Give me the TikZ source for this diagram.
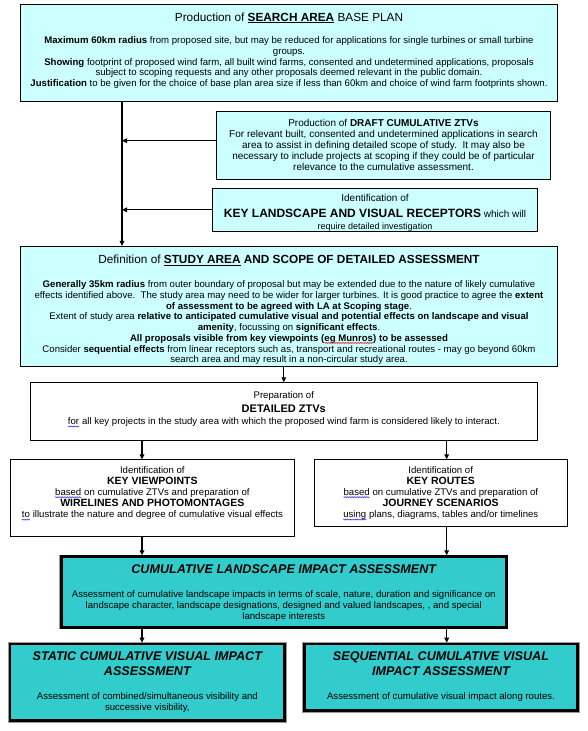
\documentclass[tikz,border=0pt]{standalone}
\usepackage{fontspec}
\setmainfont{Liberation Sans}
\setsansfont{Liberation Sans}
\usepackage{tikz}
\usetikzlibrary{positioning,arrows.meta,decorations.pathmorphing}
\definecolor{cyan1}{HTML}{CCFFFF}
\definecolor{teal1}{HTML}{33CCCC}
\definecolor{blue1}{HTML}{3A3AE0}
\definecolor{red1}{HTML}{E02020}

% wavy spell-check line under a word
\newcommand{\squig}[2]{\tikz[baseline=(sqw.base)]{%
  \node[inner sep=0pt, outer sep=0pt, anchor=base west, draw=none, fill=none]
      (sqw) at (0,0) {#2};
  \draw[#1, line width=0.45pt, decorate,
        decoration={zigzag, amplitude=0.55pt, segment length=1.7pt}]
      ([yshift=-1.7pt]sqw.base west) -- ([yshift=-1.7pt]sqw.base east);}}

\begin{document}
\begin{tikzpicture}[
    x=1pt, y=-1pt,
    frame/.style={draw, line width=0.9pt, fill=cyan1, inner sep=0pt,
                  outer sep=0pt},
    whiteframe/.style={frame, fill=white},
    heavyframe/.style={draw, line width=2.6pt, fill=teal1, inner sep=0pt,
                       outer sep=0pt,
                       preaction={draw=black!40, line width=3.8pt}},
    titletxt/.style={inner sep=0pt, align=center,
                     font=\sffamily\fontsize{11.8}{13}\selectfont},
    bodytxt/.style={inner sep=0pt, align=center,
                    font=\sffamily\fontsize{9.6}{10.75}\selectfont},
    heavytxt/.style={inner sep=0pt, align=center,
                     font=\sffamily\bfseries\itshape\fontsize{12.6}{15.3}\selectfont},
    flow/.style={-{Triangle[length=5pt,width=4.6pt]}, line width=1.3pt},
]
\useasboundingbox (0,0) rectangle (588,731);

% ── Search area ──
\node[frame, minimum width=536.8pt, minimum height=96.3pt]
    (searchf) at (289,52.85) {};
\node[titletxt, below=7.7pt of searchf.north] (searcht)
    {Production of \underline{\textbf{SEARCH AREA}} BASE PLAN};
\node[bodytxt, below=31.7pt of searchf.north] (searchb)
    {\textbf{Maximum 60km radius} from proposed site, but may be reduced for applications for single turbines or small turbine\\
     groups.\\
     \textbf{Showing} footprint of proposed wind farm, all built wind farms, consented and undetermined applications, proposals\\
     subject to scoping requests and any other proposals deemed relevant in the public domain.\\
     \textbf{Justification} to be given for the choice of base plan area size if less than 60km and choice of wind farm footprints shown.};

% ── Draft ZTVs and receptors ──
\node[frame, minimum width=334.4pt, minimum height=68pt]
    (draftf) at (383.5,145.3) {};
\node[bodytxt, font=\sffamily\fontsize{10}{11}\selectfont,
      below=8pt of draftf.north] (draft)
    {Production of \textbf{DRAFT CUMULATIVE ZTVs}\\
     For relevant built, consented and undetermined applications in search\\
     area to assist in defining detailed scope of study.\ \ It may also be\\
     necessary to include projects at scoping if they could be of particular\\
     relevance to the cumulative assessment.};

\node[frame, minimum width=325.4pt, minimum height=43pt]
    (recf) at (375,209.8) {};
\begin{scope}
  \clip (recf.south west) rectangle (recf.north east);
  \node[bodytxt, font=\sffamily\fontsize{10}{12.3}\selectfont,
        below=6.1pt of recf.north] (rec)
      {Identification of\\[3.2pt]
       {\fontsize{12}{12.3}\selectfont\bfseries KEY LANDSCAPE AND VISUAL RECEPTORS} which will\\
       {\fontsize{9}{12.3}\selectfont require detailed investigation}};
\end{scope}

% ── Study area ──
\node[frame, minimum width=536.8pt, minimum height=120.7pt]
    (studyf) at (289,306.3) {};
\node[titletxt, below=8.7pt of studyf.north] (studyt)
    {Definition of \textbf{\underline{STUDY AREA} AND SCOPE OF DETAILED ASSESSMENT}};
\node[bodytxt, below=34.4pt of studyf.north] (studyb)
    {\textbf{Generally 35km radius} from outer boundary of proposal but may be extended due to the nature of likely cumulative\\
     effects identified above.\ \ The study area may need to be wider for larger turbines. It is good practice to agree the \textbf{extent}\\
     \textbf{of assessment to be agreed with LA at Scoping stage}.\\
     Extent of study area \textbf{relative to anticipated cumulative visual and potential effects on landscape and visual}\\
     \textbf{amenity}, focussing on \textbf{significant effects}.\\
     \textbf{All proposals visible from key viewpoints (\squig{red1}{eg Munros}) to be assessed}\\
     Consider \textbf{sequential effects} from linear receptors such as, transport and recreational routes - may go beyond 60km\\
     search area and may result in a non-circular study area.};

% ── Detailed ZTVs ──
\node[whiteframe, minimum width=506.3pt, minimum height=57.7pt]
    (ztvf) at (283.8,411.2) {};
\node[bodytxt, font=\sffamily\fontsize{9.6}{12.5}\selectfont,
      below=8.8pt of ztvf.north] (ztv)
    {Preparation of\\[1.5pt]
     {\fontsize{11}{12.5}\selectfont\bfseries DETAILED ZTVs}\\
     \squig{blue1}{for} all key projects in the study area with which the proposed wind farm is considered likely to interact.};

% ── Viewpoints and routes ──
\node[whiteframe, minimum width=283.3pt, minimum height=76.7pt]
    (vpf) at (152.3,497.7) {};
\node[bodytxt, font=\sffamily\fontsize{9.6}{11.2}\selectfont,
      below=6.6pt of vpf.north] (vp)
    {Identification of\\
     {\fontsize{10.5}{11.2}\selectfont\bfseries KEY VIEWPOINTS}\\
     \squig{blue1}{based} on cumulative ZTVs and preparation of\\
     {\fontsize{10.5}{11.2}\selectfont\bfseries WIRELINES AND PHOTOMONTAGES}\\
     \squig{blue1}{to} illustrate the nature and degree of cumulative visual effects};

\node[whiteframe, minimum width=253.3pt, minimum height=67.4pt]
    (routef) at (440.7,493) {};
\node[bodytxt, font=\sffamily\fontsize{9.6}{11.2}\selectfont,
      below=6.6pt of routef.north] (route)
    {Identification of\\
     {\fontsize{10.5}{11.2}\selectfont\bfseries KEY ROUTES}\\
     \squig{blue1}{based} on cumulative ZTVs and preparation of\\
     {\fontsize{10.5}{11.2}\selectfont\bfseries JOURNEY SCENARIOS}\\
     \squig{blue1}{using} plans, diagrams, tables and/or timelines};

% ── Assessments ──
\node[heavyframe, minimum width=444.9pt, minimum height=70.8pt]
    (cliaf) at (283.75,592) {};
\node[heavytxt, below=8.2pt of cliaf.north] (cliat)
    {CUMULATIVE LANDSCAPE IMPACT ASSESSMENT};
\node[bodytxt, font=\sffamily\fontsize{9.6}{11.3}\selectfont,
      below=33.3pt of cliaf.north] (cliab)
    {Assessment of cumulative landscape impacts in terms of scale, nature, duration and significance on\\
     landscape character, landscape designations, designed and valued landscapes, , and special\\
     landscape interests};

\node[heavyframe, minimum width=274.7pt, minimum height=76.7pt]
    (staticf) at (147.35,682.35) {};
\node[heavytxt, below=7.5pt of staticf.north] (statict)
    {STATIC CUMULATIVE VISUAL IMPACT\\ASSESSMENT};
\node[bodytxt, font=\sffamily\fontsize{9.6}{11}\selectfont,
      below=48.3pt of staticf.north] (staticb)
    {Assessment of combined/simultaneous visibility and\\
     successive visibility,};

\node[heavyframe, minimum width=273.4pt, minimum height=66.7pt]
    (seqf) at (441,677.35) {};
\node[heavytxt, below=7.5pt of seqf.north] (seqt)
    {SEQUENTIAL CUMULATIVE VISUAL\\IMPACT ASSESSMENT};
\node[bodytxt, below=48.3pt of seqf.north] (seqb)
    {Assessment of cumulative visual impact along routes.};

% ── Connectors ──
\coordinate (trunk) at ([xshift=-167pt]searchf.south);
\coordinate (draftin) at ([yshift=4.6pt]draftf.west);
\coordinate (vpin) at ([xshift=-10.3pt]vpf.north);
\coordinate (routein) at ([xshift=6pt]routef.north);

\draw[flow] (trunk) -- (trunk |- studyf.north);
\draw[flow] (draftin) -- (draftin -| trunk);
\draw[flow] (recf.west) -- (recf.west -| trunk);
\draw[flow] (ztvf.north |- studyf.south) -- (ztvf.north);
\draw[flow] (vpin |- ztvf.south) -- (vpin);
\draw[flow] (routein |- ztvf.south) -- (routein);
\draw[flow, shorten >=1.3pt] (vpin |- vpf.south) -- (vpin |- cliaf.north);
\draw[flow, shorten >=1.3pt] (routein |- routef.south) -- (routein |- cliaf.north);
\draw[flow, shorten <=1.3pt, shorten >=1.3pt]
    (vpin |- cliaf.south) -- (vpin |- staticf.north);
\draw[flow, shorten <=1.3pt, shorten >=1.3pt]
    (routein |- cliaf.south) -- (routein |- seqf.north);

\end{tikzpicture}
\end{document}
